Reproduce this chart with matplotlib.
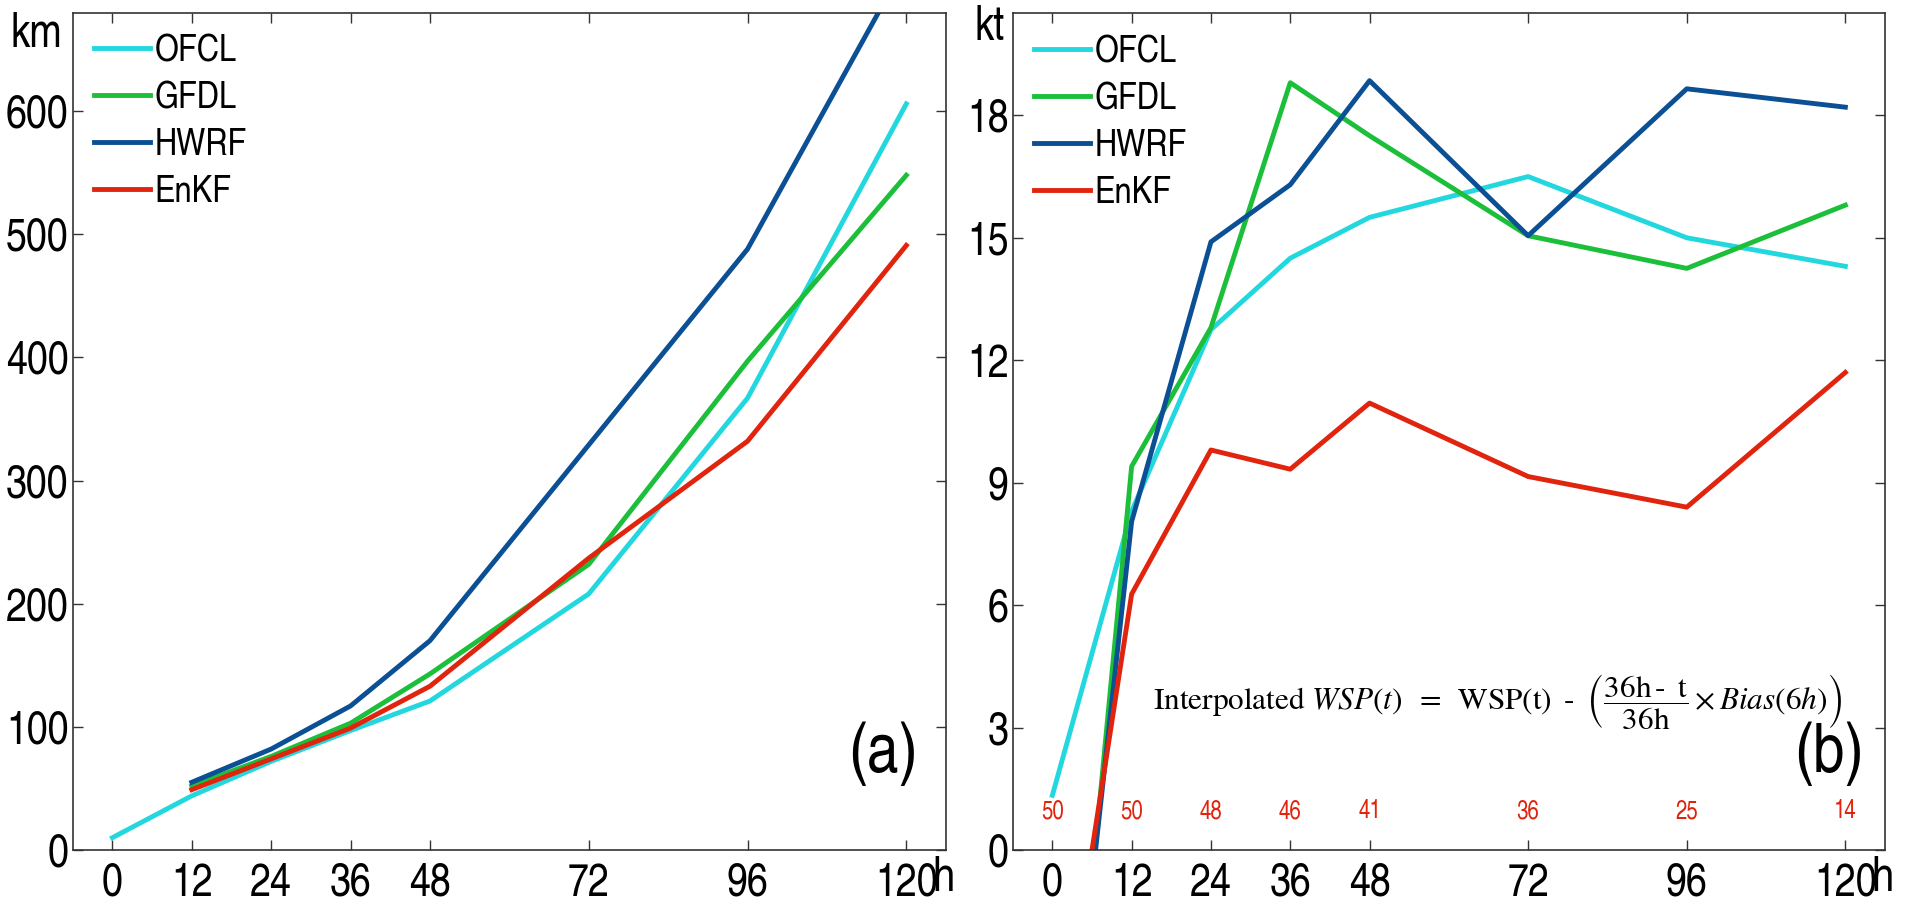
import matplotlib
matplotlib.use("Agg")
import matplotlib.pyplot as plt
from matplotlib import font_manager

# ---- data -------------------------------------------------------------
lead_hours = [0, 12, 24, 36, 48, 72, 96, 120]
tick_hours = [0, 12, 24, 36, 48, 72, 96, 120]

# (a) track error, km
track_hours = [0, 12, 24, 36, 48, 72, 96, 120]
track_ofcl = [10, 44, 72, 97, 121, 208, 367, 606]
track_hours_model = [12, 24, 36, 48, 72, 96, 120]
track_gfdl = [52, 76, 103, 143, 232, 397, 548]
track_hwrf = [55, 82, 117, 170, 329, 488, 721]
track_enkf = [49, 74, 99, 133, 237, 332, 491]

# (b) intensity error, kt
wsp_hours_ofcl = [0, 12, 24, 36, 48, 72, 96, 120]
wsp_ofcl = [1.34, 8.3, 12.75, 14.5, 15.5, 16.5, 15.0, 14.3]
wsp_hours_model = [6, 12, 24, 36, 48, 72, 96, 120]
wsp_gfdl = [-0.8, 9.4, 12.8, 18.8, 17.5, 15.05, 14.25, 15.8]
wsp_hwrf = [-0.8, 8.05, 14.9, 16.3, 18.85, 15.05, 18.65, 18.2]
wsp_enkf = [0.0, 6.27, 9.8, 9.33, 10.95, 9.15, 8.4, 11.7]

sample_counts = [50, 50, 48, 46, 41, 36, 25, 14]

series_names = ["OFCL", "GFDL", "HWRF", "EnKF"]
series_colors = ["#22d8de", "#1cbf3a", "#0b4f94", "#e0240e"]

# ---- fonts ------------------------------------------------------------
available = {f.name for f in font_manager.fontManager.ttflist}
narrow_candidates = ["TeX Gyre Heros Cn", "Archivo Narrow", "Liberation Sans Narrow",
                     "Liberation Sans"]
sans = next((n for n in narrow_candidates if n in available), "DejaVu Sans")
plt.rcParams["font.family"] = [sans, "DejaVu Sans"]
plt.rcParams["mathtext.fontset"] = "stix"

TICK_FS = 33
LEG_FS = 27
LW = 3.5
SPINE = "#333333"
RED_TEXT = "#e0240e"

fig = plt.figure(figsize=(19.07, 9.06), dpi=100)
W, H = 1907, 906


def axes_box(x0, x1, y0, y1):
    return [x0 / W, 1 - y1 / H, (x1 - x0) / W, (y1 - y0) / H]


ax_a = fig.add_axes(axes_box(72.7, 946, 12.7, 850))
ax_b = fig.add_axes(axes_box(1012.7, 1885, 13.3, 850))


def style_axes(ax, yticks, ylim):
    ax.set_xlim(-6, 126)
    ax.set_ylim(*ylim)
    ax.set_xticks(tick_hours)
    ax.set_xticklabels([str(h) for h in tick_hours])
    ax.set_yticks(yticks)
    ax.set_yticklabels([str(v) for v in yticks])
    ax.tick_params(direction="in", length=7, width=1, colors=SPINE,
                   labelcolor="black", labelsize=TICK_FS,
                   top=True, right=True)
    ax.tick_params(axis="x", pad=9)
    ax.tick_params(axis="y", pad=3)
    for s in ax.spines.values():
        s.set_color(SPINE)
        s.set_linewidth(1.2)
    ax.annotate("h", xy=(1.0, 0.0), xycoords="axes fraction",
                xytext=(6, -4), textcoords="offset points",
                ha="right", va="top", fontsize=35)


def add_legend(ax, handles):
    ax.legend(handles, series_names, loc="upper left",
              bbox_to_anchor=(0.024, 0.974), frameon=False,
              fontsize=LEG_FS, handlelength=1.5, handletextpad=0.12,
              labelspacing=0.32, borderpad=0, borderaxespad=0)


# (a) track errors
h1, = ax_a.plot(track_hours, track_ofcl, color=series_colors[0], lw=LW)
h2, = ax_a.plot(track_hours_model, track_gfdl, color=series_colors[1], lw=LW)
h3, = ax_a.plot(track_hours_model, track_hwrf, color=series_colors[2], lw=LW)
h4, = ax_a.plot(track_hours_model, track_enkf, color=series_colors[3], lw=LW)
style_axes(ax_a, [0, 100, 200, 300, 400, 500, 600], (0, 680))
add_legend(ax_a, [h1, h2, h3, h4])
ax_a.text(116.5, 78, "(a)", fontsize=50, ha="center", va="center")
fig.text(62 / W, 1 - 47 / H, "km", fontsize=34, ha="right", va="baseline")

# (b) intensity errors
g1, = ax_b.plot(wsp_hours_ofcl, wsp_ofcl, color=series_colors[0], lw=LW)
g2, = ax_b.plot(wsp_hours_model, wsp_gfdl, color=series_colors[1], lw=LW)
g3, = ax_b.plot(wsp_hours_model, wsp_hwrf, color=series_colors[2], lw=LW)
g4, = ax_b.plot(wsp_hours_model, wsp_enkf, color=series_colors[3], lw=LW)
style_axes(ax_b, [0, 3, 6, 9, 12, 15, 18], (0, 20.5))
add_legend(ax_b, [g1, g2, g3, g4])
ax_b.text(117.5, 2.35, "(b)", fontsize=50, ha="center", va="center")
fig.text(1005 / W, 1 - 40 / H, "kt", fontsize=34, ha="right", va="baseline")

# number of verifying cases at each lead time
for h, n in zip(lead_hours, sample_counts):
    ax_b.text(h, 0.95, str(n), color=RED_TEXT, fontsize=18,
              ha="center", va="center")

formula = (r"Interpolated $WSP(t)\;\;=\;\;$WSP(t)$\;\;$-$\;\;"
           r"\left(\dfrac{\mathrm{36h}\,\text{-}\;\;\mathrm{t}}{\mathrm{36h}}\times Bias(6h)\right)$")
ax_b.text(15.3, 3.65, formula, fontsize=22.5, family="STIXGeneral",
          ha="left", va="center")

fig.savefig("out.png", dpi=100)
